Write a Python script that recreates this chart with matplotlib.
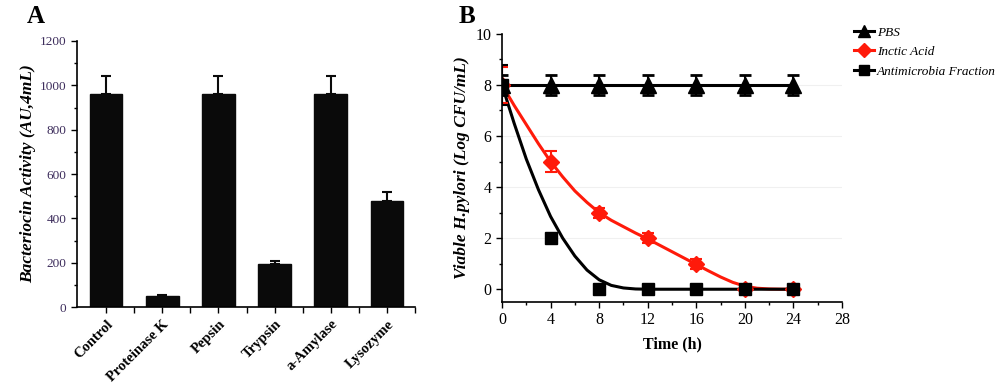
import matplotlib
matplotlib.use("Agg")
import matplotlib.pyplot as plt
from matplotlib.ticker import MultipleLocator, FixedLocator

# --- panel A data ---
enzymes = ["Control", "Proteinase K", "Pepsin", "Trypsin", "a-Amylase", "Lysozyme"]
activity = [960, 50, 960, 195, 960, 480]
activity_err = [80, 5, 80, 15, 80, 40]

# --- panel B data ---
hours = [0, 4, 8, 12, 16, 20, 24]
pbs = [8, 8, 8, 8, 8, 8, 8]
pbs_err = [0.4, 0.4, 0.4, 0.4, 0.4, 0.4, 0.4]
lactic = [8, 5, 3, 2, 1, 0, 0]
lactic_err = [0.7, 0.4, 0.2, 0.2, 0.2, 0.1, 0.1]
fraction = [8, 2, 0, 0, 0, 0, 0]
fraction_err = [0.8, 0.1, 0.1, 0.1, 0.1, 0.1, 0.1]

# fitted curves
lactic_fit_x = [0, 1, 2, 3, 4, 5, 6, 7, 8, 9, 10, 11, 12, 13, 14, 15, 16, 17, 18, 19, 20, 21, 22, 23, 24]
lactic_fit_y = [8, 7.2, 6.45, 5.7, 5.0, 4.4, 3.85, 3.4, 3.0, 2.7, 2.45, 2.2, 1.97, 1.72, 1.47,
                1.22, 0.97, 0.72, 0.48, 0.27, 0.12, 0.04, 0.01, 0.0, 0.0]
fraction_fit_x = [0, 1, 2, 3, 4, 5, 6, 7, 8, 9, 10, 11, 12, 24]
fraction_fit_y = [8, 6.5, 5.1, 3.9, 2.85, 2.0, 1.3, 0.75, 0.37, 0.15, 0.05, 0.01, 0.0, 0.0]

serif = "Liberation Serif"
red = "#ff1a0a"

fig = plt.figure(figsize=(10, 3.83), dpi=100)
fig.patch.set_facecolor("white")

# ---------- A ----------
axA = fig.add_axes([0.077, 0.198, 0.338, 0.695])
xs = list(range(len(enzymes)))
axA.bar(xs, activity, width=0.58, color="#0a0a0a", edgecolor="#0a0a0a")
axA.errorbar(xs, activity, yerr=[[0] * len(activity), activity_err], fmt="none",
             ecolor="#0a0a0a", elinewidth=1.5, capsize=3.5, capthick=1.5)
axA.set_xlim(-0.52, 5.5)
axA.set_ylim(0, 1200)
axA.yaxis.set_major_locator(MultipleLocator(200))
axA.yaxis.set_minor_locator(MultipleLocator(100))
axA.xaxis.set_major_locator(FixedLocator(xs))
axA.xaxis.set_minor_locator(FixedLocator([x + 0.5 for x in xs]))
axA.set_xticklabels(enzymes, rotation=45, ha="right", rotation_mode="anchor",
                    fontfamily=serif, fontweight="bold", fontsize=10.5)
for lab in axA.get_yticklabels():
    lab.set_fontfamily(serif)
axA.tick_params(axis="y", labelsize=9.5, labelcolor="#3d2d5c", direction="out", length=4, width=1)
axA.tick_params(axis="y", which="minor", direction="out", length=2.5, width=1)
axA.tick_params(axis="x", which="both", direction="out", length=4, width=1)
axA.spines["top"].set_visible(False)
axA.spines["right"].set_visible(False)
for s in ["left", "bottom"]:
    axA.spines[s].set_linewidth(1.2)
axA.set_ylabel("Bacteriocin Activity (AU,4mL)", fontfamily=serif, fontweight="bold",
               fontstyle="italic", fontsize=12.5, labelpad=3)
fig.text(0.027, 0.94, "A", fontfamily=serif, fontweight="bold", fontsize=18)

# ---------- B ----------
axB = fig.add_axes([0.502, 0.2115, 0.340, 0.700])
for y in [2, 4, 6, 8]:
    axB.axhline(y, color="#f0f0f0", linewidth=0.8, zorder=0)

axB.plot(lactic_fit_x, lactic_fit_y, color=red, linewidth=2.2, zorder=2)
axB.plot(fraction_fit_x, fraction_fit_y, color="black", linewidth=2.2, zorder=2)
axB.plot(hours, pbs, color="black", linewidth=2.2, zorder=2)

axB.errorbar(hours, lactic, yerr=lactic_err, fmt="D", color=red, markersize=8,
             ecolor=red, elinewidth=1.5, capsize=4.5, capthick=1.5, zorder=3)
axB.errorbar(hours, fraction, yerr=fraction_err, fmt="s", color="black", markersize=9,
             ecolor="black", elinewidth=1.5, capsize=4.5, capthick=1.5, zorder=4)
axB.errorbar(hours, pbs, yerr=pbs_err, fmt="^", color="black", markersize=11,
             ecolor="black", elinewidth=1.5, capsize=4.5, capthick=2, zorder=5)

axB.set_xlim(0, 28)
axB.set_ylim(-0.5, 10)
axB.xaxis.set_major_locator(MultipleLocator(4))
axB.xaxis.set_minor_locator(MultipleLocator(2))
axB.yaxis.set_major_locator(MultipleLocator(2))
axB.yaxis.set_minor_locator(MultipleLocator(1))
axB.tick_params(which="both", direction="out", width=1)
axB.tick_params(which="major", length=4, labelsize=11.5)
axB.tick_params(which="minor", length=2.5)
for lab in axB.get_xticklabels() + axB.get_yticklabels():
    lab.set_fontfamily(serif)
axB.spines["top"].set_visible(False)
axB.spines["right"].set_visible(False)
for s in ["left", "bottom"]:
    axB.spines[s].set_linewidth(1.2)
axB.set_xlabel("Time (h)", fontfamily=serif, fontweight="bold", fontsize=11.5, labelpad=6)
axB.set_ylabel("Viable H.pylori (Log CFU/mL)", fontfamily=serif, fontweight="bold",
               fontstyle="italic", fontsize=12.5, labelpad=4)
fig.text(0.459, 0.94, "B", fontfamily=serif, fontweight="bold", fontsize=18)

# legend
h1, = axB.plot([], [], color="black", marker="^", markersize=9, linewidth=2.2)
h2, = axB.plot([], [], color=red, marker="D", markersize=7, linewidth=2.2)
h3, = axB.plot([], [], color="black", marker="s", markersize=7, linewidth=2.2)
fig.legend([h1, h2, h3], ["PBS", "Inctic Acid", "Antimicrobia Fraction"],
           loc="upper left", bbox_to_anchor=(0.849, 0.945), frameon=False,
           prop={"family": serif, "style": "italic", "size": 9.5},
           handlelength=1.5, handletextpad=0.2, labelspacing=0.55, borderaxespad=0)

fig.savefig("out.png", dpi=100, facecolor="white")
